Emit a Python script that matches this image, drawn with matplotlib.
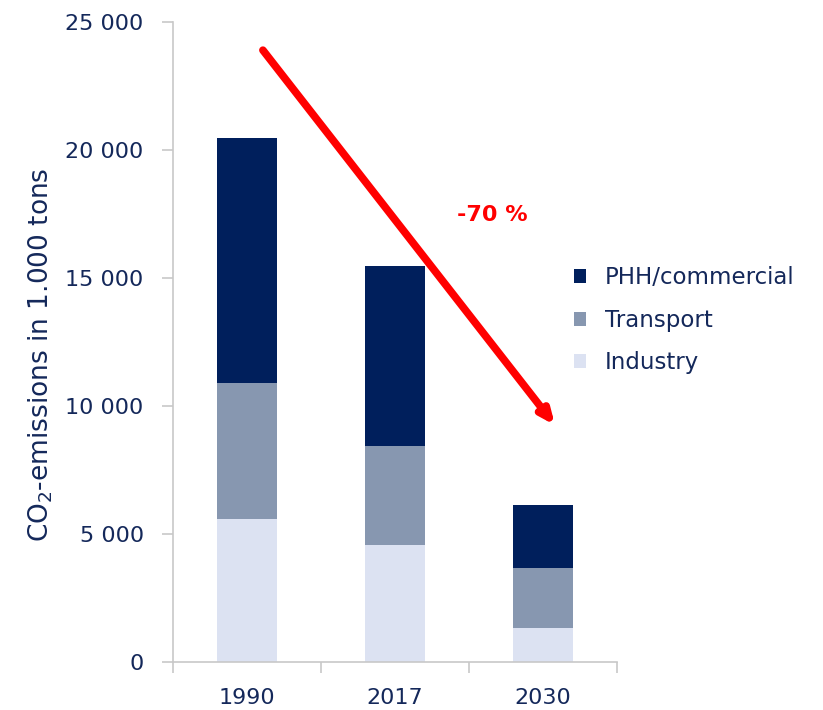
import matplotlib
matplotlib.use("Agg")
import matplotlib.pyplot as plt
from matplotlib.ticker import FuncFormatter, FixedLocator

years = ["1990", "2017", "2030"]
industry = [5600, 4580, 1330]
transport = [5300, 3850, 2340]
phh = [9570, 7020, 2460]
series_names = ["PHH/commercial", "Transport", "Industry"]
reduction_label = "-70 %"

c_phh = "#001F5C"
c_tr = "#8797B0"
c_ind = "#DCE2F2"
txt = "#14285A"

fig = plt.figure(figsize=(8.23, 7.10), dpi=100)
ax = fig.add_axes([0.210, 0.0676, 0.540, 0.9014])

x = list(range(len(years)))
w = 0.405
b_ind = ax.bar(x, industry, w, color=c_ind, label="Industry")
b_tr = ax.bar(x, transport, w, bottom=industry, color=c_tr, label="Transport")
bot2 = [a + b for a, b in zip(industry, transport)]
b_phh = ax.bar(x, phh, w, bottom=bot2, color=c_phh, label="PHH/commercial")

ax.set_xlim(-0.5, 2.5)
ax.set_ylim(0, 25000)
ax.set_yticks(range(0, 25001, 5000))
ax.yaxis.set_major_formatter(FuncFormatter(lambda v, p: f"{int(v):,}".replace(",", " ")))
ax.set_xticks(x)
ax.set_xticklabels(years)
ax.xaxis.set_minor_locator(FixedLocator([-0.5, 0.5, 1.5, 2.5]))
ax.tick_params(axis="x", which="major", length=0, pad=19, labelsize=16, labelcolor=txt)
ax.tick_params(axis="x", which="minor", length=8, color="#C8C8C8", width=1.2)
ax.tick_params(axis="y", length=8, color="#C8C8C8", width=1.2, labelsize=16, labelcolor=txt, pad=13)
for s in ["top", "right"]:
    ax.spines[s].set_visible(False)
for s in ["left", "bottom"]:
    ax.spines[s].set_color("#C8C8C8")
    ax.spines[s].set_linewidth(1.2)

ax.set_ylabel("CO$_2$-emissions in 1.000 tons", fontsize=19, color=txt)
ax.yaxis.set_label_coords(-0.265, 0.48)

ax.annotate("", xy=(2.08, 9250), xytext=(0.108, 23900),
            arrowprops=dict(arrowstyle="-|>,head_length=0.8,head_width=0.35", color="#FF0000",
                            lw=5.5, shrinkA=0, shrinkB=0), annotation_clip=False)
ax.text(1.66, 17450, reduction_label, color="#FF0000", fontsize=16, fontweight="bold",
        ha="center", va="center")

handles = [b_phh, b_tr, b_ind]
leg = fig.legend(handles, series_names, loc="upper left", bbox_to_anchor=(0.672, 0.654),
                 frameon=False, fontsize=16.5, handlelength=0.55, handleheight=0.55,
                 handletextpad=0.8, labelspacing=0.85)
for t in leg.get_texts():
    t.set_color(txt)

fig.savefig("out.png", dpi=100)
